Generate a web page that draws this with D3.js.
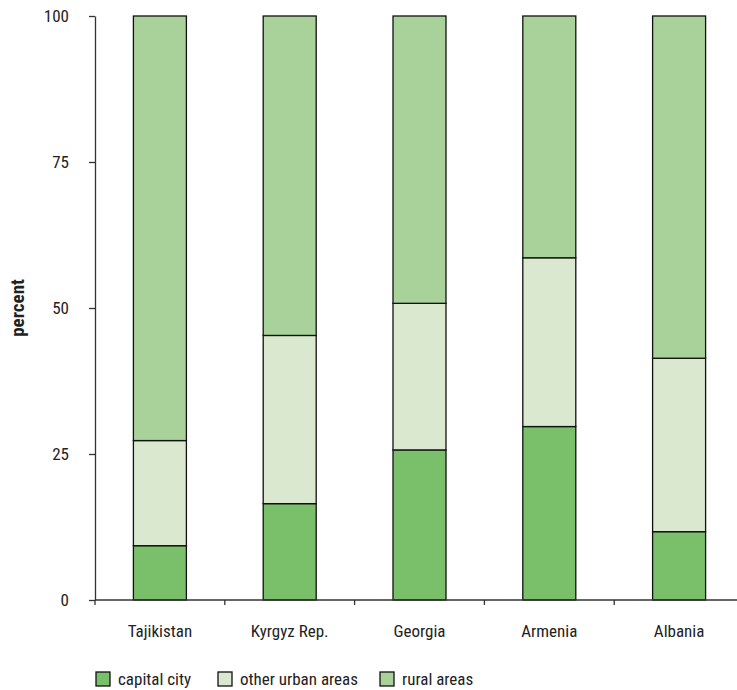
<!DOCTYPE html>
<html>
<head>
<meta charset="utf-8">
<script src="https://cdn.jsdelivr.net/npm/d3@7"></script>
<style>
  body { margin: 0; background: #fff; }
  svg text { font-family: "Liberation Sans Narrow", "Roboto Condensed", "Arial Narrow", sans-serif; font-size: 17px; fill: #222; }
</style>
</head>
<body>
<svg id="chart" width="737" height="690"></svg>
<script>
const categories = ["Tajikistan", "Kyrgyz Rep.", "Georgia", "Armenia", "Albania"];
const capitalCity = [9.3, 16.5, 25.7, 29.7, 11.7];
const otherUrban = [18.0, 28.8, 25.1, 28.9, 29.7];
const ruralAreas = [72.7, 54.7, 49.2, 41.4, 58.6];
const seriesNames = ["capital city", "other urban areas", "rural areas"];
const seriesColors = ["#7abf6a", "#d9e8cf", "#a9d19a"];
const yTicks = [0, 25, 50, 75, 100];

(function () {
const svg = d3.select("#chart");
const mLeft = 95, mTop = 16, mBottom = 600, mRight = 737;

const x = d3.scaleBand().domain(categories).range([mLeft, mLeft + 5 * 129.8]).padding(0);
const y = d3.scaleLinear().domain([0, 100]).range([mBottom, mTop]);

const rows = categories.map((c, i) => ({
  cat: c,
  "capital city": capitalCity[i],
  "other urban areas": otherUrban[i],
  "rural areas": ruralAreas[i]
}));
const stack = d3.stack().keys(seriesNames);
const layers = stack(rows);
const barW = 53;

layers.forEach((layer, li) => {
  svg.append("g").selectAll("rect").data(layer).join("rect")
    .attr("x", d => x(d.data.cat) + x.bandwidth() / 2 - barW / 2)
    .attr("width", barW)
    .attr("y", d => y(Math.min(d[1], 100)))
    .attr("height", d => y(d[0]) - y(Math.min(d[1], 100)))
    .attr("fill", seriesColors[li])
    .attr("stroke", "#111")
    .attr("stroke-width", 1.3);
});

// y axis
const yAxis = d3.axisLeft(y).tickValues(yTicks).tickSize(6).tickPadding(20).tickSizeOuter(0);
const gy = svg.append("g").attr("transform", `translate(${mLeft},0)`).call(yAxis);
gy.select(".domain").attr("stroke", "#333").attr("stroke-width", 1.3);
gy.selectAll(".tick line").attr("stroke", "#333").attr("stroke-width", 1.3);
gy.selectAll(".tick text").style("font-size", "17px").attr("fill", "#222");

// x axis
const gx = svg.append("g");
gx.append("line").attr("x1", mLeft).attr("x2", mRight).attr("y1", mBottom).attr("y2", mBottom)
  .attr("stroke", "#333").attr("stroke-width", 1.3);
gx.selectAll("line.tk").data(categories).join("line").attr("class", "tk")
  .attr("x1", d => x(d)).attr("x2", d => x(d))
  .attr("y1", mBottom).attr("y2", mBottom + 5)
  .attr("stroke", "#333").attr("stroke-width", 1.3);
gx.selectAll("text").data(categories).join("text")
  .attr("x", d => x(d) + x.bandwidth() / 2)
  .attr("y", 637)
  .attr("text-anchor", "middle")
  .text(d => d);

// y label
svg.append("text")
  .attr("transform", `translate(24,${(mTop + mBottom) / 2}) rotate(-90)`)
  .attr("text-anchor", "middle")
  .style("font-weight", "bold")
  .style("font-size", "19px")
  .attr("fill", "#000")
  .text("percent");

// legend
const legendX = [96, 218, 380];
const lg = svg.append("g");
seriesNames.forEach((s, i) => {
  lg.append("rect").attr("x", legendX[i]).attr("y", 672).attr("width", 14).attr("height", 14)
    .attr("fill", seriesColors[i]).attr("stroke", "#111").attr("stroke-width", 1.3);
  lg.append("text").attr("x", legendX[i] + 22).attr("y", 685).text(s);
});
})();
</script>
</body>
</html>
